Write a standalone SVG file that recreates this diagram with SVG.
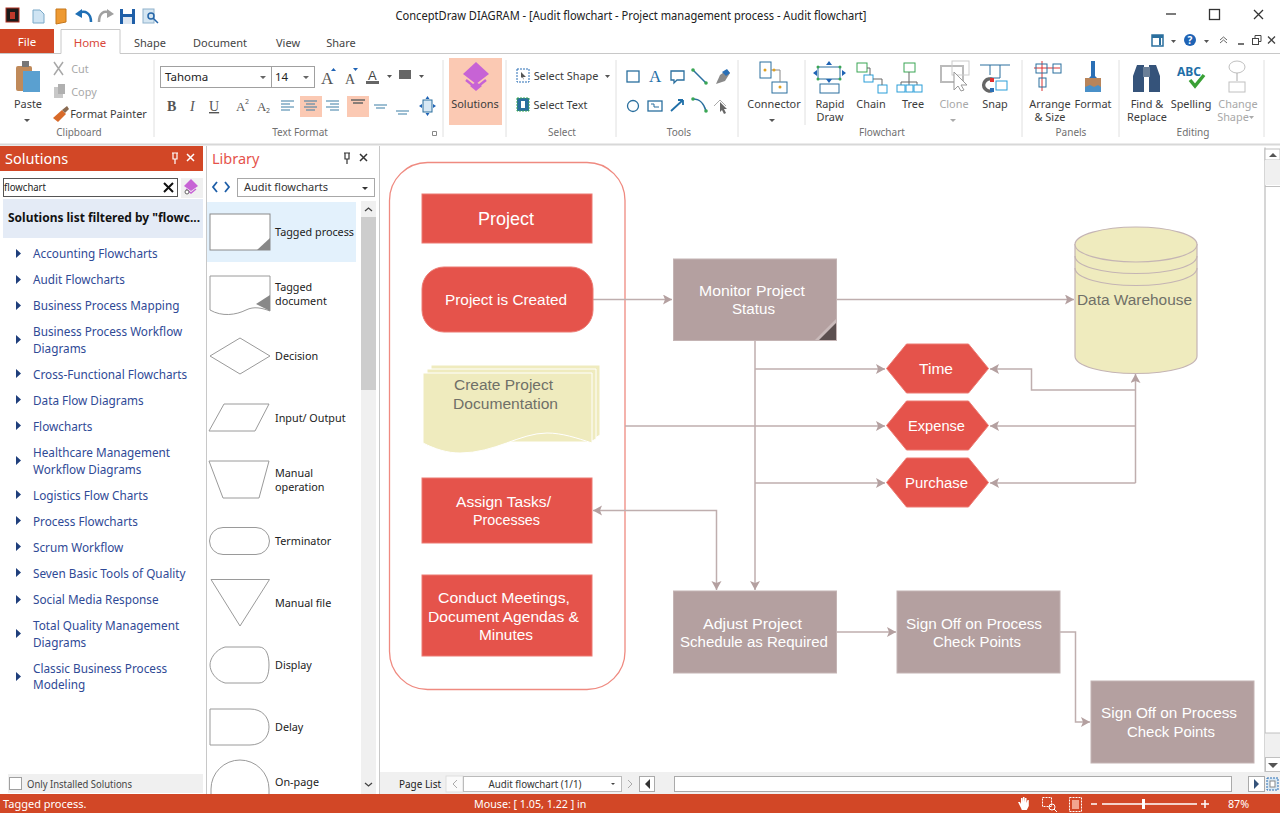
<svg xmlns="http://www.w3.org/2000/svg" width="1280" height="813" viewBox="0 0 1280 813">
<style>
text{font-family:"Noto Sans","Open Sans","Liberation Sans",sans-serif;font-size:12px;fill:#333}
.rb{font-size:10.9px;fill:#3c3c3c;text-anchor:middle}
.grp{font-size:10px;fill:#707070;text-anchor:middle}
.tab{font-size:11px;fill:#444;text-anchor:middle}
.sol{font-size:11.75px;fill:#2f4a96}
.lib{font-size:10.8px;fill:#222}
.w{font-family:"Liberation Sans",Arial,sans-serif;font-size:15.5px;fill:#fff;text-anchor:middle}
.g{font-family:"Liberation Sans",Arial,sans-serif;font-size:15.5px;fill:#707068;text-anchor:middle}
.sb{font-size:10.7px;fill:#fff}
.box{fill:#b4a0a0;stroke:#c4b4b4;stroke-width:1}
.red{fill:#e5534b;stroke:#ec7a72;stroke-width:1}
.con{fill:none;stroke:#bfaeae;stroke-width:1.5}
.shp{fill:#fff;stroke:#9a9a9a;stroke-width:1}
.tri{fill:#1f3f7c}
.gn{fill:#3aa655}
.sheet{fill:#efebbe;stroke:#fff;stroke-width:1}
</style>
<defs>
<marker id="ah" markerUnits="userSpaceOnUse" markerWidth="10" markerHeight="11" refX="9" refY="5" orient="auto-start-reverse"><path d="M0 0L9 5L0 10L2 5Z" fill="#b4a0a0"/></marker>
</defs>
<rect width="1280" height="813" fill="#fff"/>

<g id="titlebar">
<rect x="6" y="8" width="13" height="14" fill="#1a1a1a" stroke="#b03020"/><rect x="10" y="12" width="5" height="7" fill="#c0392b"/>
<path d="M33 10h7l4 4v9H33Z" fill="#cfe4f3" stroke="#7aa9c8"/>
<path d="M56 9h10v13l-10 2Z" fill="#ee9a33" stroke="#c5761a"/>
<path d="M79 13c6-3 12 0 12 9" fill="none" stroke="#1f6fb5" stroke-width="2.500"/><path d="M75 14l7-5v9Z" fill="#1f6fb5"/>
<path d="M110 13c-6-3-11 0-11 9" fill="none" stroke="#a0a0a0" stroke-width="2.500"/><path d="M114 14l-7-5v9Z" fill="#a0a0a0"/>
<rect x="120" y="9" width="15" height="15" fill="#1f5fa8"/><rect x="123" y="9" width="9" height="5" fill="#fff"/><rect x="123" y="17" width="9" height="7" fill="#dfe8f2"/>
<rect x="143" y="9" width="11" height="14" fill="#d5e6f2" stroke="#8fb2cc"/><circle cx="151" cy="16" r="3" fill="none" stroke="#2565a8" stroke-width="1.500"/><path d="M153 18l5 5" stroke="#2565a8" stroke-width="1.500"/>
<text x="631" y="20" style="font-size:12.500px;fill:#222;text-anchor:middle" textLength="471" lengthAdjust="spacingAndGlyphs">ConceptDraw DIAGRAM - [Audit flowchart - Project management process - Audit flowchart]</text>
<path d="M1166 14h10" stroke="#333" stroke-width="1.300"/>
<rect x="1209.500" y="9.500" width="10" height="10" fill="none" stroke="#333" stroke-width="1.300"/>
<path d="M1254 10l9 9M1263 10l-9 9" stroke="#333" stroke-width="1.300"/>
</g>

<g id="tabs">
<rect x="0" y="29" width="54" height="24" fill="#d24726"/>
<text x="27" y="46" style="font-size:11.500px;fill:#fff;text-anchor:middle">File</text>
<path d="M0 53.500H61V29.500H120V53.500H1280" fill="#fff" stroke="#c8c8c8"/>
<text x="90" y="47" style="font-size:11.500px;fill:#d9483b;text-anchor:middle">Home</text>
<text class="tab" x="150" y="47">Shape</text>
<text class="tab" x="220" y="47">Document</text>
<text class="tab" x="288" y="47">View</text>
<text class="tab" x="341" y="47">Share</text>
<rect x="1152" y="35" width="11" height="11" fill="#fff" stroke="#2a6f9e" stroke-width="1.500"/><rect x="1152" y="35" width="11" height="3" fill="#2a6f9e"/><rect x="1159" y="38" width="2" height="7" fill="#2a6f9e"/>
<path d="M1171 40h5l-2.500 3Z" fill="#555"/>
<circle cx="1190" cy="40" r="6" fill="#1f63b5"/><text x="1190" y="44" style="font-size:10px;font-weight:bold;fill:#fff;text-anchor:middle">?</text>
<path d="M1204 40h5l-2.500 3Z" fill="#555"/>
<path d="M1220 40l3.500-3 3.500 3M1220 43l3.500-3 3.500 3" fill="none" stroke="#666"/>
<path d="M1238 44h6" stroke="#444" stroke-width="1.500"/>
<rect x="1252.500" y="38.500" width="6" height="6" fill="#fff" stroke="#444"/><path d="M1255 38v-2.500h6v6h-2.500" fill="none" stroke="#444"/>
<path d="M1268 36.500l7 7M1275 36.500l-7 7" stroke="#444" stroke-width="1.300"/>
</g>

<g id="ribbon">
<path d="M154 60V137M443 60V137M506 60V137M616 60V137M738 60V137M805 60V125M1022 60V137M1119 60V137M1264 60V137" stroke="#e0e0e0" fill="none"/>
<rect x="16" y="66" width="16" height="25" rx="2" fill="#c08a5a"/><rect x="22" y="61" width="7" height="6" fill="#777"/><rect x="23" y="71" width="17" height="21" fill="#5aa0d0"/>
<text class="rb" x="28" y="108">Paste</text><path d="M24 119h6l-3 3Z" fill="#555"/>
<path d="M54 62l9 13M63 62l-9 13" stroke="#a8a8a8" stroke-width="1.500"/>
<text class="rb" x="80" y="73" style="fill:#a8a8a8">Cut</text>
<rect x="54" y="87" width="9" height="11" fill="#c8c8c8"/><rect x="58" y="84" width="7" height="10" fill="#b0b0b0"/>
<text class="rb" x="84" y="96" style="fill:#a8a8a8">Copy</text>
<path d="M53 118l9-8 4 4-8 8Z" fill="#d86a2a"/><path d="M62 110l5-4 2 3-4 4Z" fill="#8a6a50"/>
<text class="rb" x="108.500" y="118">Format Painter</text>
<text class="grp" x="79" y="136">Clipboard</text>
<rect x="160.500" y="66.500" width="111" height="21" fill="#fff" stroke="#a0a0a0"/><rect x="271.500" y="66.500" width="43" height="21" fill="#fff" stroke="#a0a0a0"/>
<text x="165" y="81" style="font-size:11.500px;fill:#222">Tahoma</text><text x="275" y="81" style="font-size:11.500px;fill:#222">14</text>
<path d="M260 76h6l-3 3ZM303 76h6l-3 3Z" fill="#666"/>
<text x="321" y="84" style="font-size:17px;fill:#555;font-family:'Liberation Serif',serif">A</text><path d="M331 71h5l-2.500-3Z" fill="#1f63b5"/>
<text x="345" y="84" style="font-size:14px;fill:#555;font-family:'Liberation Serif',serif">A</text><path d="M353 68h5l-2.500 3Z" fill="#1f63b5"/>
<text x="368" y="80" style="font-size:13px;fill:#444;font-family:'Liberation Sans',sans-serif">A</text><rect x="366" y="81" width="13" height="3" fill="#666"/><path d="M387 75h5l-2.500 3Z" fill="#555"/>
<rect x="399" y="70" width="12" height="9" fill="#666"/><path d="M419 75h5l-2.500 3Z" fill="#555"/>
<text x="167" y="111" style="font-size:14px;font-weight:bold;fill:#555;font-family:'Liberation Serif',serif">B</text>
<text x="190" y="111" style="font-size:14px;font-style:italic;fill:#555;font-family:'Liberation Serif',serif">I</text>
<text x="209" y="111" style="font-size:14px;fill:#555;text-decoration:underline;font-family:'Liberation Serif',serif">U</text>
<text x="236" y="111" style="font-size:13px;fill:#555;font-family:'Liberation Serif',serif">A</text><text x="245" y="104" style="font-size:7px;fill:#555">2</text>
<text x="257" y="111" style="font-size:13px;fill:#555;font-family:'Liberation Serif',serif">A</text><text x="266" y="113" style="font-size:7px;fill:#555">2</text>
<rect x="300" y="96" width="22" height="21" fill="#fbc9b3"/><rect x="347" y="96" width="22" height="21" fill="#fbc9b3"/>
<path d="M281 101h13M281 104h9M281 107h13M281 110h9M304 101h13M306 104h9M304 107h13M306 110h9M326 101h13M330 104h9M326 107h13M330 110h9" stroke="#3d7ea6" stroke-width="1.200"/>
<path d="M351 100h14M353 103h10" stroke="#666" stroke-width="1.500"/>
<path d="M374 105h13M376 108h9" stroke="#3d7ea6" stroke-width="1.200"/><path d="M396 111h13M398 114h9" stroke="#3d7ea6" stroke-width="1.200"/>
<rect x="423" y="100" width="9" height="12" fill="#d8e8f4" stroke="#2a6f9e"/><path d="M427.500 96l2 3h-4ZM427.500 116l2-3h-4ZM419 106l3-2v4ZM436 106l-3-2v4Z" fill="#1f63b5"/>
<text class="grp" x="300" y="136">Text Format</text>
<path d="M432.500 131.500h4v4h-4Z" fill="none" stroke="#888"/>
<rect x="449" y="58" width="53" height="67" fill="#fbc9b3"/>
<path d="M476 62L489 74L476 84L463 74Z" fill="#c763d5"/><path d="M466 80L476 88L486 80" fill="none" stroke="#c763d5" stroke-width="2.500"/><path d="M470 86L476 91L482 86L476 82Z" fill="#c763d5"/>
<text class="rb" x="475" y="108">Solutions</text>
<rect x="517" y="69" width="12" height="13" fill="#fff" stroke="#2a6fb5" stroke-dasharray="2 1"/><path d="M521 72l5 5-3 0 1 3-2-3-1 1Z" fill="#555"/>
<text class="rb" x="566" y="80">Select Shape</text><path d="M605 75h5l-2.500 3Z" fill="#555"/>
<rect x="517" y="98" width="12" height="13" fill="#2a6f9e" stroke="#3aa655" stroke-dasharray="2 1"/><rect x="521" y="101" width="4" height="7" fill="#fff"/>
<text class="rb" x="560.500" y="109">Select Text</text>
<text class="grp" x="562" y="136">Select</text>
<rect x="627" y="71" width="12" height="11" fill="#fff" stroke="#2a6f9e" stroke-width="1.300"/>
<text x="649" y="82" style="font-size:17px;fill:#1f6fa8;font-family:'Liberation Serif',serif">A</text>
<path d="M671 71h13v9h-7l-3 3v-3h-3Z" fill="#fff" stroke="#2a6f9e" stroke-width="1.300"/>
<path d="M693 70l13 13" stroke="#2a6f9e" stroke-width="1.500"/><circle cx="693" cy="70" r="1.800" class="gn"/><circle cx="706" cy="83" r="1.800" class="gn"/>
<path d="M716 84l4-9 7-5 3 3-5 8Z" fill="#8a8a8a"/><path d="M722 72l5-3 3 4-4 3Z" fill="#2a6fb5"/>
<circle cx="633" cy="106" r="5.500" fill="#fff" stroke="#2a6f9e" stroke-width="1.300"/>
<rect x="648" y="101" width="14" height="10" fill="#fff" stroke="#2a6f9e" stroke-width="1.300"/><path d="M651 104h3v3h5" stroke="#2a6f9e" fill="none"/>
<path d="M671 111l12-11M683 100v5M683 100h-5" fill="none" stroke="#1f6fa8" stroke-width="1.800"/>
<path d="M693 99c8 0 11 5 13 12" fill="none" stroke="#2a6f9e" stroke-width="1.500"/><circle cx="693" cy="99" r="1.800" class="gn"/><circle cx="706" cy="111" r="1.800" class="gn"/>
<path d="M714 106l6-6 6 6" fill="none" stroke="#aaa"/><path d="M720 102l7 7-3 0 2 4-2 1-2-4-2 2Z" fill="#666"/>
<text class="grp" x="679" y="136">Tools</text>
<rect x="760" y="62" width="11" height="16" fill="#fff" stroke="#2a6f9e"/><rect x="772" y="82" width="15" height="11" fill="#fff" stroke="#2a6f9e"/>
<path d="M771 70h9v12" fill="none" stroke="#888"/><circle cx="765" cy="70" r="1.500" fill="#e0a020"/><circle cx="774" cy="70" r="1.500" fill="#e0a020"/><circle cx="780" cy="87" r="1.500" fill="#e0a020"/>
<text class="rb" x="774" y="108">Connector</text><path d="M769 119h6l-3 3Z" fill="#555"/>
<rect x="818" y="67" width="22" height="12" fill="#fff" stroke="#2a6f9e"/><rect x="820" y="84" width="19" height="9" fill="#fff" stroke="#2a6f9e"/>
<path d="M829 61l3 4h-6ZM829 83l3-4h-6ZM813 73l4-3v6ZM846 73l-4-3v6Z" fill="#1f63b5"/>
<circle cx="818" cy="67" r="1.500" class="gn"/><circle cx="840" cy="67" r="1.500" class="gn"/><circle cx="818" cy="79" r="1.500" class="gn"/><circle cx="840" cy="79" r="1.500" class="gn"/>
<text class="rb" x="830" y="108">Rapid</text><text class="rb" x="830" y="121">Draw</text>
<rect x="857" y="63" width="10" height="9" fill="#fff" stroke="#3aa655"/><rect x="864" y="75" width="9" height="7" fill="#fff" stroke="#2a9ed8"/><rect x="878" y="85" width="9" height="8" fill="#fff" stroke="#2a9ed8"/><path d="M867 68h3v7M873 79h9v6" fill="none" stroke="#666"/>
<text class="rb" x="871" y="108">Chain</text>
<rect x="904" y="63" width="11" height="9" fill="#fff" stroke="#3aa655"/><path d="M909 72v10M901 82h16M901 82v4M909 82v4M917 82v4" fill="none" stroke="#666"/>
<rect x="897" y="85" width="8" height="7" fill="#fff" stroke="#2a9ed8"/><rect x="906" y="85" width="7" height="7" fill="#fff" stroke="#2a9ed8"/><rect x="914" y="85" width="8" height="7" fill="#fff" stroke="#2a9ed8"/>
<text class="rb" x="913" y="108">Tree</text>
<rect x="941" y="66" width="22" height="16" fill="none" stroke="#bbb" stroke-width="2"/><rect x="952" y="61" width="17" height="14" fill="none" stroke="#ccc"/><path d="M954 72v18l4-4 3 5 3-1-3-5h6Z" fill="#fff" stroke="#999"/>
<text class="rb" x="954" y="108" style="fill:#a8a8a8">Clone</text><path d="M950 119h6l-3 3Z" fill="#aaa"/>
<path d="M980 65h30M1000 65v13h-10M990 65v10" fill="none" stroke="#2a6f9e"/><rect x="996" y="81" width="11" height="9" fill="#fff" stroke="#2a9ed8"/>
<path d="M993 80a6 6 0 1 0 0 10" fill="none" stroke="#666" stroke-width="3.500"/><rect x="990" y="78" width="4" height="4" fill="#e03030"/><rect x="990" y="88" width="4" height="4" fill="#2a6fb5"/>
<text class="rb" x="995" y="108">Snap</text>
<text class="grp" x="882" y="136">Flowchart</text>
<path d="M1034 68h26M1042 61v30" stroke="#d33" stroke-width="1"/><rect x="1036" y="64" width="11" height="9" fill="none" stroke="#2a6f9e"/><rect x="1053" y="64" width="8" height="9" fill="none" stroke="#2a6f9e"/><rect x="1039" y="78" width="7" height="9" fill="none" stroke="#2a6f9e"/>
<text class="rb" x="1050" y="108">Arrange</text><text class="rb" x="1050" y="121">&amp; Size</text>
<path d="M1091 61h4v15l4 4h-12l4-4Z" fill="#2a6fb5"/><rect x="1085" y="78" width="16" height="14" fill="#b8845a"/><path d="M1085 87l5-2 4 2 4-2 3 2v5h-16Z" fill="#4a90c8"/>
<text class="rb" x="1093" y="108">Format</text>
<text class="grp" x="1071" y="136">Panels</text>
<path d="M1133 76l4-11h7v27h-11ZM1160 76l-4-11h-7v27h11Z" fill="#35537a"/><rect x="1143" y="67" width="7" height="10" fill="#6a7f98"/>
<text class="rb" x="1147" y="108">Find &amp;</text><text class="rb" x="1147" y="121">Replace</text>
<text x="1177" y="76" style="font-size:12px;font-weight:bold;fill:#1f6fa8">ABC</text><path d="M1190 80l5 6 9-11" fill="none" stroke="#3aa035" stroke-width="3.500"/>
<text class="rb" x="1191" y="108">Spelling</text>
<ellipse cx="1237" cy="67" rx="8" ry="6" fill="#fff" stroke="#c0c0c0"/><rect x="1229" y="82" width="16" height="10" fill="#fff" stroke="#c0c0c0"/><path d="M1237 73v8" stroke="#aaa"/>
<text class="rb" x="1238" y="108" style="fill:#a8a8a8">Change</text><text class="rb" x="1233" y="121" style="fill:#a8a8a8">Shape</text><path d="M1249 116h5l-2.500 3Z" fill="#aaa"/>
<text class="grp" x="1193" y="136">Editing</text>
<path d="M0 144.500H1280" stroke="#d8d8d8" stroke-width="2"/>
</g>

<g id="solutions-panel">
<rect x="0" y="146" width="203" height="25" fill="#d24726"/>
<text x="5" y="164" style="font-size:14.500px;fill:#fff">Solutions</text>
<path d="M172 153h6M173 153v6h4v-6M175 159v5" fill="none" stroke="#fff" stroke-width="1.200"/>
<path d="M187 154l7 7M194 154l-7 7" stroke="#fff" stroke-width="1.500"/>
<rect x="3.500" y="178.500" width="174" height="18" fill="#fff" stroke="#555"/>
<text x="4" y="191" style="font-size:11.500px;fill:#222" textLength="42" lengthAdjust="spacingAndGlyphs">flowchart</text>
<path d="M164 183l9 9M173 183l-9 9" stroke="#111" stroke-width="2"/>
<rect x="181" y="178" width="22" height="20" fill="#f0f0f0"/><path d="M191 179l7 7-7 5-7-5Z" fill="#c763d5"/><path d="M186 189l5 4 5-4" fill="none" stroke="#c763d5" stroke-width="1.500"/><circle cx="187" cy="192" r="2" fill="#fff" stroke="#666"/>
<rect x="3" y="199" width="200" height="39" fill="#e4ebf6"/>
<text x="8" y="222" style="font-size:12.500px;font-weight:bold;fill:#111" textLength="192" lengthAdjust="spacingAndGlyphs">Solutions list filtered by "flowc...</text>
<g>
<text class="sol" x="33" y="258">Accounting Flowcharts</text>
<text class="sol" x="33" y="284">Audit Flowcharts</text>
<text class="sol" x="33" y="310">Business Process Mapping</text>
<text class="sol" x="33" y="336">Business Process Workflow</text>
<text class="sol" x="33" y="353">Diagrams</text>
<text class="sol" x="33" y="379">Cross-Functional Flowcharts</text>
<text class="sol" x="33" y="405">Data Flow Diagrams</text>
<text class="sol" x="33" y="431">Flowcharts</text>
<text class="sol" x="33" y="457">Healthcare Management</text>
<text class="sol" x="33" y="474">Workflow Diagrams</text>
<text class="sol" x="33" y="500">Logistics Flow Charts</text>
<text class="sol" x="33" y="526">Process Flowcharts</text>
<text class="sol" x="33" y="552">Scrum Workflow</text>
<text class="sol" x="33" y="578">Seven Basic Tools of Quality</text>
<text class="sol" x="33" y="604">Social Media Response</text>
<text class="sol" x="33" y="630">Total Quality Management</text>
<text class="sol" x="33" y="647">Diagrams</text>
<text class="sol" x="33" y="673">Classic Business Process</text>
<text class="sol" x="33" y="689">Modeling</text>
</g>
<path class="tri" d="M16 249l5 4.500-5 4.500ZM16 275l5 4.500-5 4.500ZM16 301l5 4.500-5 4.500ZM16 335l5 4.500-5 4.500ZM16 369l5 4.500-5 4.500ZM16 395l5 4.500-5 4.500ZM16 421l5 4.500-5 4.500ZM16 456l5 4.500-5 4.500ZM16 490l5 4.500-5 4.500ZM16 516l5 4.500-5 4.500ZM16 542l5 4.500-5 4.500ZM16 568l5 4.500-5 4.500ZM16 595l5 4.500-5 4.500ZM16 629l5 4.500-5 4.500ZM16 672l5 4.500-5 4.500Z"/>
<rect x="8" y="774" width="195" height="19" fill="#f0f0f0"/>
<rect x="9.500" y="777.500" width="12" height="12" fill="#fff" stroke="#a0a0a0"/>
<text x="27" y="788" style="font-size:11px;fill:#444" textLength="105" lengthAdjust="spacingAndGlyphs">Only Installed Solutions</text>
</g>

<g id="library-panel">
<path d="M206.500 146V794" stroke="#c8c8c8"/>
<text x="212" y="164" style="font-size:14.500px;fill:#e5534b">Library</text>
<path d="M344 153h6M345 153v6h4v-6M347 159v5" fill="none" stroke="#333" stroke-width="1.200"/>
<path d="M360 154l7 7M367 154l-7 7" stroke="#333" stroke-width="1.500"/>
<path d="M217 182l-4 5 4 5M225 182l4 5-4 5" fill="none" stroke="#1f5fa8" stroke-width="1.800"/>
<rect x="237.500" y="178.500" width="137" height="18" fill="#fff" stroke="#a8a8a8"/>
<text x="244" y="191" style="font-size:11px;fill:#333">Audit flowcharts</text>
<path d="M362 187h6l-3 3Z" fill="#333"/>
<rect x="207" y="202" width="149" height="60" fill="#e3f1fc"/>
<rect x="361" y="201" width="15" height="594" fill="#f0f0f0"/>
<rect x="361" y="217" width="15" height="173" fill="#cdcdcd"/>
<path d="M365 211l3.500-3 3.500 3M365 783l3.500 3 3.500-3" fill="none" stroke="#444" stroke-width="1.300"/>
<rect class="shp" x="210" y="214" width="60" height="36" style="stroke:#8a8a8a"/>
<path d="M270 238v12h-13Z" fill="#888"/>
<path class="shp" d="M210 276h60v35c-8-3-16-5-24-1-10 5-24 7-36 0Z"/><path d="M270 295v16l-14-7Z" fill="#888"/>
<path class="shp" d="M210 356l30-18 30 18-30 18Z"/>
<path class="shp" d="M209 431l15-27h45l-14 27Z"/>
<path class="shp" d="M209 461h60l-10 37h-36Z"/>
<rect class="shp" x="209.500" y="527.500" width="60" height="27" rx="13.500"/>
<path class="shp" d="M211 579.500h58.500l-29.500 46.500Z"/>
<path class="shp" d="M225 647h34c8 0 10 10 10 18s-2 18-10 18h-34c-10-3-15-12-15-18s5-15 15-18Z"/>
<path class="shp" d="M210 709h40c12 0 19 8 19 18s-7 18-19 18h-40Z"/>
<path class="shp" d="M211 795v-6a29 29 0 0 1 58 0v6"/>
<text class="lib" x="275" y="236">Tagged process</text>
<text class="lib" x="275" y="291">Tagged</text><text class="lib" x="275" y="305">document</text>
<text class="lib" x="275" y="360">Decision</text>
<text class="lib" x="275" y="422">Input/ Output</text>
<text class="lib" x="275" y="477">Manual</text><text class="lib" x="275" y="491">operation</text>
<text class="lib" x="275" y="545">Terminator</text>
<text class="lib" x="275" y="607">Manual file</text>
<text class="lib" x="275" y="669">Display</text>
<text class="lib" x="275" y="731">Delay</text>
<text class="lib" x="275" y="786">On-page</text>
</g>

<g id="canvas-frame">
<path d="M379.500 146V794" stroke="#c8c8c8"/>
<rect x="1265" y="148" width="15" height="624" fill="#fff"/>
<path d="M1265 147.500V772" stroke="#c8c8c8" stroke-width="1.500"/>
<rect x="1265" y="149" width="15" height="11" fill="#fff" stroke="#c0c0c0"/><path d="M1269 157l4-4 4 4Z" fill="#555"/>
<rect x="1265" y="160" width="15" height="25" fill="#f0f0f0"/>
<path d="M1265 186.500H1280" stroke="#c0c0c0"/>
<rect x="1265" y="733" width="15" height="24" fill="#f0f0f0"/><path d="M1265 733H1280" stroke="#c0c0c0"/>
<rect x="1265.500" y="757.500" width="15" height="14" fill="#fff" stroke="#c0c0c0"/><path d="M1268 763h10l-5 5Z" fill="#555"/>
<rect x="380" y="772" width="900" height="22" fill="#f0f0f0"/>
<text x="399" y="788" style="font-size:11px;fill:#222" textLength="42" lengthAdjust="spacingAndGlyphs">Page List</text>
<rect x="446" y="776" width="17" height="16" fill="#fafafa" stroke="#ddd"/><path d="M457 780l-4 4 4 4" fill="none" stroke="#aaa"/>
<rect x="463.500" y="776.500" width="158" height="15" fill="#fff" stroke="#bbb"/>
<text x="535" y="788" style="font-size:11px;fill:#333;text-anchor:middle" textLength="93" lengthAdjust="spacingAndGlyphs">Audit flowchart (1/1)</text>
<path d="M611 783h4l-2 2Z" fill="#444"/>
<path d="M628 780l4 4-4 4" fill="none" stroke="#aaa"/>
<rect x="639.500" y="776.500" width="15" height="15" fill="#fff" stroke="#aaa"/><path d="M650 779v10l-5-5Z" fill="#333"/>
<rect x="674.500" y="776.500" width="557" height="15" fill="#fff" stroke="#aaa"/>
<rect x="1248.500" y="776.500" width="16" height="15" fill="#fff" stroke="#aaa"/><path d="M1254 779v10l5-5Z" fill="#35537a"/>
<rect x="1267" y="778" width="11" height="12" fill="#d8e8f4" stroke="#2a6fb5" stroke-dasharray="2 1"/><rect x="1270" y="781" width="5" height="6" fill="#fff" stroke="#888"/>
</g>

<g id="container"><rect x="389.500" y="162.500" width="235.500" height="527" rx="38" fill="#fff" stroke="#ef8a80" stroke-width="1.300"/></g>

<g id="connectors">
<path class="con" d="M593 299.500H672" marker-end="url(#ah)"/>
<path class="con" d="M837 299.500H1074" marker-end="url(#ah)"/>
<path class="con" d="M755 340V590" marker-end="url(#ah)"/>
<path class="con" d="M755 369H885" marker-end="url(#ah)"/>
<path class="con" d="M625 426H885" marker-end="url(#ah)"/>
<path class="con" d="M755 483H885" marker-end="url(#ah)"/>
<path class="con" d="M1135.500 483V374" marker-end="url(#ah)"/>
<path class="con" d="M1135.500 390H1031.500V369H990" marker-end="url(#ah)"/>
<path class="con" d="M1135.500 426H990" marker-end="url(#ah)"/>
<path class="con" d="M1135.500 483H990" marker-end="url(#ah)"/>
<path class="con" d="M593 510.500H716.500V590" marker-start="url(#ah)" marker-end="url(#ah)"/>
<path class="con" d="M837 632H896" marker-end="url(#ah)"/>
<path class="con" d="M1060 632H1075.500V722H1090" marker-end="url(#ah)"/>
</g>

<g id="project"><rect class="red" x="422" y="194" width="170" height="49"/><text class="w" x="506" y="225" style="font-size:17.500px" textLength="56" lengthAdjust="spacingAndGlyphs">Project</text></g>
<g id="project-created"><rect class="red" x="422" y="267" width="171" height="65" rx="22"/><text class="w" x="506" y="305" textLength="122" lengthAdjust="spacingAndGlyphs">Project is Created</text></g>
<g id="create-doc">
<path class="sheet" d="M431 365H600V435L592 440H431Z"/>
<path class="sheet" d="M427 369H596V439L590 442H427Z"/>
<path class="sheet" d="M423 373H592V443C577 438 562 433 547 433 520 433 495 453 460 453 447 453 435 449 423 443Z"/>
<text class="g" x="503.500" y="390" textLength="99" lengthAdjust="spacingAndGlyphs">Create Project</text><text class="g" x="505.500" y="409" textLength="105" lengthAdjust="spacingAndGlyphs">Documentation</text>
</g>
<g id="assign-tasks"><rect class="red" x="422" y="478" width="170" height="65"/><text class="w" x="503.500" y="507" textLength="95" lengthAdjust="spacingAndGlyphs">Assign Tasks/</text><text class="w" x="506.500" y="525" textLength="67" lengthAdjust="spacingAndGlyphs">Processes</text></g>
<g id="conduct-meetings"><rect class="red" x="422" y="575" width="170" height="81"/><text class="w" x="504" y="603" textLength="132" lengthAdjust="spacingAndGlyphs">Conduct Meetings,</text><text class="w" x="503.500" y="622" textLength="151" lengthAdjust="spacingAndGlyphs">Document Agendas &amp;</text><text class="w" x="506" y="640" textLength="54" lengthAdjust="spacingAndGlyphs">Minutes</text></g>
<g id="monitor"><rect class="box" x="673.500" y="259" width="163" height="81.500"/><path d="M836 319v21h-21Z" fill="#c9baba"/><path d="M836 323v17h-17Z" fill="#5c5050"/><text class="w" x="752" y="296" textLength="106" lengthAdjust="spacingAndGlyphs">Monitor Project</text><text class="w" x="753.500" y="314" textLength="43" lengthAdjust="spacingAndGlyphs">Status</text></g>
<g id="data-warehouse">
<path d="M1075 244.500V356c0 10 27 17.500 61 17.500s61-7.500 61-17.500V244.500Z" fill="#efebbe" stroke="#c4b4b4" stroke-width="1.200"/>
<ellipse cx="1136" cy="244.500" rx="61" ry="17.500" fill="#efebbe" stroke="#c4b4b4" stroke-width="1.200"/>
<path d="M1075 256c0 10 27 17.500 61 17.500s61-7.500 61-17.500M1075 268c0 10 27 17.500 61 17.500s61-7.500 61-17.500" fill="none" stroke="#c4b4b4" stroke-width="1.200"/>
<text class="g" x="1134.500" y="305" textLength="115" lengthAdjust="spacingAndGlyphs">Data Warehouse</text>
</g>
<g id="time"><path class="red" d="M906.500 344H968.500L988.500 368.500 968.500 393H906.500L886.500 368.500Z"/><text class="w" x="936" y="374" textLength="34" lengthAdjust="spacingAndGlyphs">Time</text></g>
<g id="expense"><path class="red" d="M906.500 401H968.500L988.500 425.500 968.500 450H906.500L886.500 425.500Z"/><text class="w" x="936.500" y="431" textLength="57" lengthAdjust="spacingAndGlyphs">Expense</text></g>
<g id="purchase"><path class="red" d="M906.500 458H968.500L988.500 482.500 968.500 507H906.500L886.500 482.500Z"/><text class="w" x="936.500" y="488" textLength="63" lengthAdjust="spacingAndGlyphs">Purchase</text></g>
<g id="adjust"><rect class="box" x="673.500" y="591" width="163" height="82"/><text class="w" x="752.500" y="629" textLength="99" lengthAdjust="spacingAndGlyphs">Adjust Project</text><text class="w" x="754" y="647" textLength="148" lengthAdjust="spacingAndGlyphs">Schedule as Required</text></g>
<g id="signoff-1"><rect class="box" x="897" y="591" width="163" height="82"/><text class="w" x="974" y="629" textLength="136" lengthAdjust="spacingAndGlyphs">Sign Off on Process</text><text class="w" x="977" y="647" textLength="88" lengthAdjust="spacingAndGlyphs">Check Points</text></g>
<g id="signoff-2"><rect class="box" x="1091" y="681" width="163" height="82"/><text class="w" x="1169" y="718" textLength="136" lengthAdjust="spacingAndGlyphs">Sign Off on Process</text><text class="w" x="1171" y="737" textLength="88" lengthAdjust="spacingAndGlyphs">Check Points</text></g>

<g id="statusbar">
<rect x="0" y="794" width="1280" height="19" fill="#d24726"/>
<text class="sb" x="3" y="808" style="font-size:11px">Tagged process.</text>
<text class="sb" x="474" y="808">Mouse: [ 1.05, 1.22 ] in</text>
<path d="M1021 808l-3-6 2 0 1 2v-6h1.500v4l.5-5h1.500v5l.5-4h1.500v5l1-3h1.300v6l-2 4h-5Z" fill="#fff"/>
<rect x="1042.500" y="797.500" width="9" height="9" fill="none" stroke="#fff" stroke-dasharray="2 1"/><circle cx="1052" cy="807" r="3" fill="none" stroke="#fff"/><path d="M1054 809l3 3" stroke="#fff"/>
<rect x="1069.500" y="797.500" width="12" height="14" fill="none" stroke="#fff" stroke-dasharray="2 1"/><rect x="1072" y="800" width="7" height="9" fill="#f2a58e"/>
<path d="M1091 804h6M1102 804h95M1201 804h8M1205 800v8" stroke="#fff" stroke-width="1.500"/>
<rect x="1142" y="799" width="3" height="10" fill="#fff"/>
<text class="sb" x="1228" y="808">87%</text>
</g>
</svg>
